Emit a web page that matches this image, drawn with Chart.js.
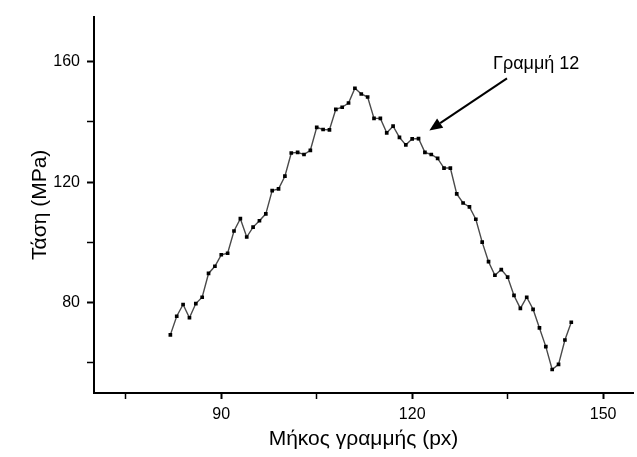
<!DOCTYPE html>
<html>
<head>
<meta charset="utf-8">
<script src="https://cdn.jsdelivr.net/npm/chart.js@4.4.1/dist/chart.umd.min.js"></script>
<style>
  body { margin: 0; background: #fff; }
</style>
</head>
<body>
<canvas id="myChart" width="637" height="457"></canvas>
<script>
// line length (px) and stress (MPa)
const lengths = [];
for (let i = 82; i <= 145; i++) lengths.push(i);
const stress = [
  69.3, 75.5, 79.4, 75.0, 79.7, 81.8, 89.7, 92.1, 95.9, 96.4,
  103.8, 107.9, 101.8, 105.1, 107.2, 109.5, 117.2, 117.8, 122.0, 129.7,
  129.9, 129.2, 130.6, 138.2, 137.5, 137.4, 144.2, 144.9, 146.3, 151.2,
  149.3, 148.3, 141.2, 141.2, 136.4, 138.6, 134.9, 132.4, 134.4, 134.5,
  129.9, 129.2, 127.9, 124.7, 124.7, 116.1, 113.1, 111.8, 107.7, 100.1,
  93.6, 89.1, 91.0, 88.5, 82.4, 78.1, 81.8, 77.8, 71.6, 65.4,
  57.8, 59.5, 67.6, 73.5
];
const xTicks = [75, 90, 105, 120, 135, 150];
const yTicks = [60, 80, 100, 120, 140, 160];

// annotation
const noteText = 'Γραμμή 12';
const notePos = [132.7, 159.4];
const arrowFrom = [134.9, 154.5];
const arrowTo = [122.7, 137.2];

const font = 'Liberation Sans, Arial, sans-serif';

const notePlugin = {
  id: 'note',
  afterDraw(chart) {
    const c = chart.ctx, xs = chart.scales.x, ys = chart.scales.y;
    c.save();
    c.fillStyle = '#000';
    c.font = '18px ' + font;
    c.textAlign = 'left';
    c.textBaseline = 'middle';
    c.fillText(noteText, xs.getPixelForValue(notePos[0]), ys.getPixelForValue(notePos[1]));

    const x1 = xs.getPixelForValue(arrowFrom[0]), y1 = ys.getPixelForValue(arrowFrom[1]);
    const x2 = xs.getPixelForValue(arrowTo[0]), y2 = ys.getPixelForValue(arrowTo[1]);
    const a = Math.atan2(y2 - y1, x2 - x1);
    const hl = 13, hw = 5.5;
    const bx = x2 - hl * Math.cos(a), by = y2 - hl * Math.sin(a);
    c.strokeStyle = '#000';
    c.lineWidth = 2;
    c.beginPath();
    c.moveTo(x1, y1);
    c.lineTo(bx, by);
    c.stroke();
    c.beginPath();
    c.moveTo(x2, y2);
    c.lineTo(bx + hw * Math.sin(a), by - hw * Math.cos(a));
    c.lineTo(bx - hw * Math.sin(a), by + hw * Math.cos(a));
    c.closePath();
    c.fill();
    c.restore();
  }
};

const ctx = document.getElementById('myChart');

new Chart(ctx, {
  type: 'line',
  data: {
    labels: lengths,
    datasets: [{
      data: stress,
      borderColor: '#4a4a4a',
      borderWidth: 1.4,
      pointStyle: 'rect',
      pointRadius: 2.6,
      pointBackgroundColor: '#000',
      pointBorderWidth: 0,
      tension: 0
    }]
  },
  options: {
    responsive: false,
    animation: false,
    layout: { padding: { top: 12, right: 0, left: 0, bottom: 0 } },
    plugins: { legend: { display: false }, tooltip: { enabled: false } },
    scales: {
      x: {
        type: 'linear',
        min: 70,
        max: 154.7,
        afterBuildTicks: s => { s.ticks = xTicks.map(v => ({ value: v })); },
        afterFit: s => { s.height = 64; },
        border: { color: '#000', width: 2 },
        grid: {
          drawOnChartArea: false,
          tickLength: 6,
          tickColor: '#000',
          tickWidth: c => (c.tick && c.tick.value % 30 === 0 ? 2 : 1.5)
        },
        ticks: {
          color: '#000',
          font: { family: font, size: 16 },
          padding: 6,
          maxRotation: 0,
          autoSkip: false,
          callback: v => (v % 30 === 0 ? v : '')
        },
        title: {
          display: true,
          text: 'Μήκος γραμμής (px)',
          color: '#000',
          font: { family: font, size: 21 },
          padding: { top: 0, bottom: 5 }
        }
      },
      y: {
        min: 50,
        max: 175,
        afterBuildTicks: s => { s.ticks = yTicks.map(v => ({ value: v })); },
        afterFit: s => { s.width = 94; },
        border: { color: '#000', width: 2 },
        grid: {
          drawOnChartArea: false,
          tickLength: 7,
          tickColor: '#000',
          tickWidth: c => (c.tick && c.tick.value % 40 === 0 ? 2 : 1.5)
        },
        ticks: {
          color: '#000',
          font: { family: font, size: 16 },
          padding: 7,
          autoSkip: false,
          callback: v => (v % 40 === 0 ? v : '')
        },
        title: {
          display: true,
          text: 'Τάση (MPa)',
          color: '#000',
          font: { family: font, size: 21 },
          padding: { top: 28, bottom: 0 }
        }
      }
    }
  },
  plugins: [notePlugin]
});
</script>
</body>
</html>
